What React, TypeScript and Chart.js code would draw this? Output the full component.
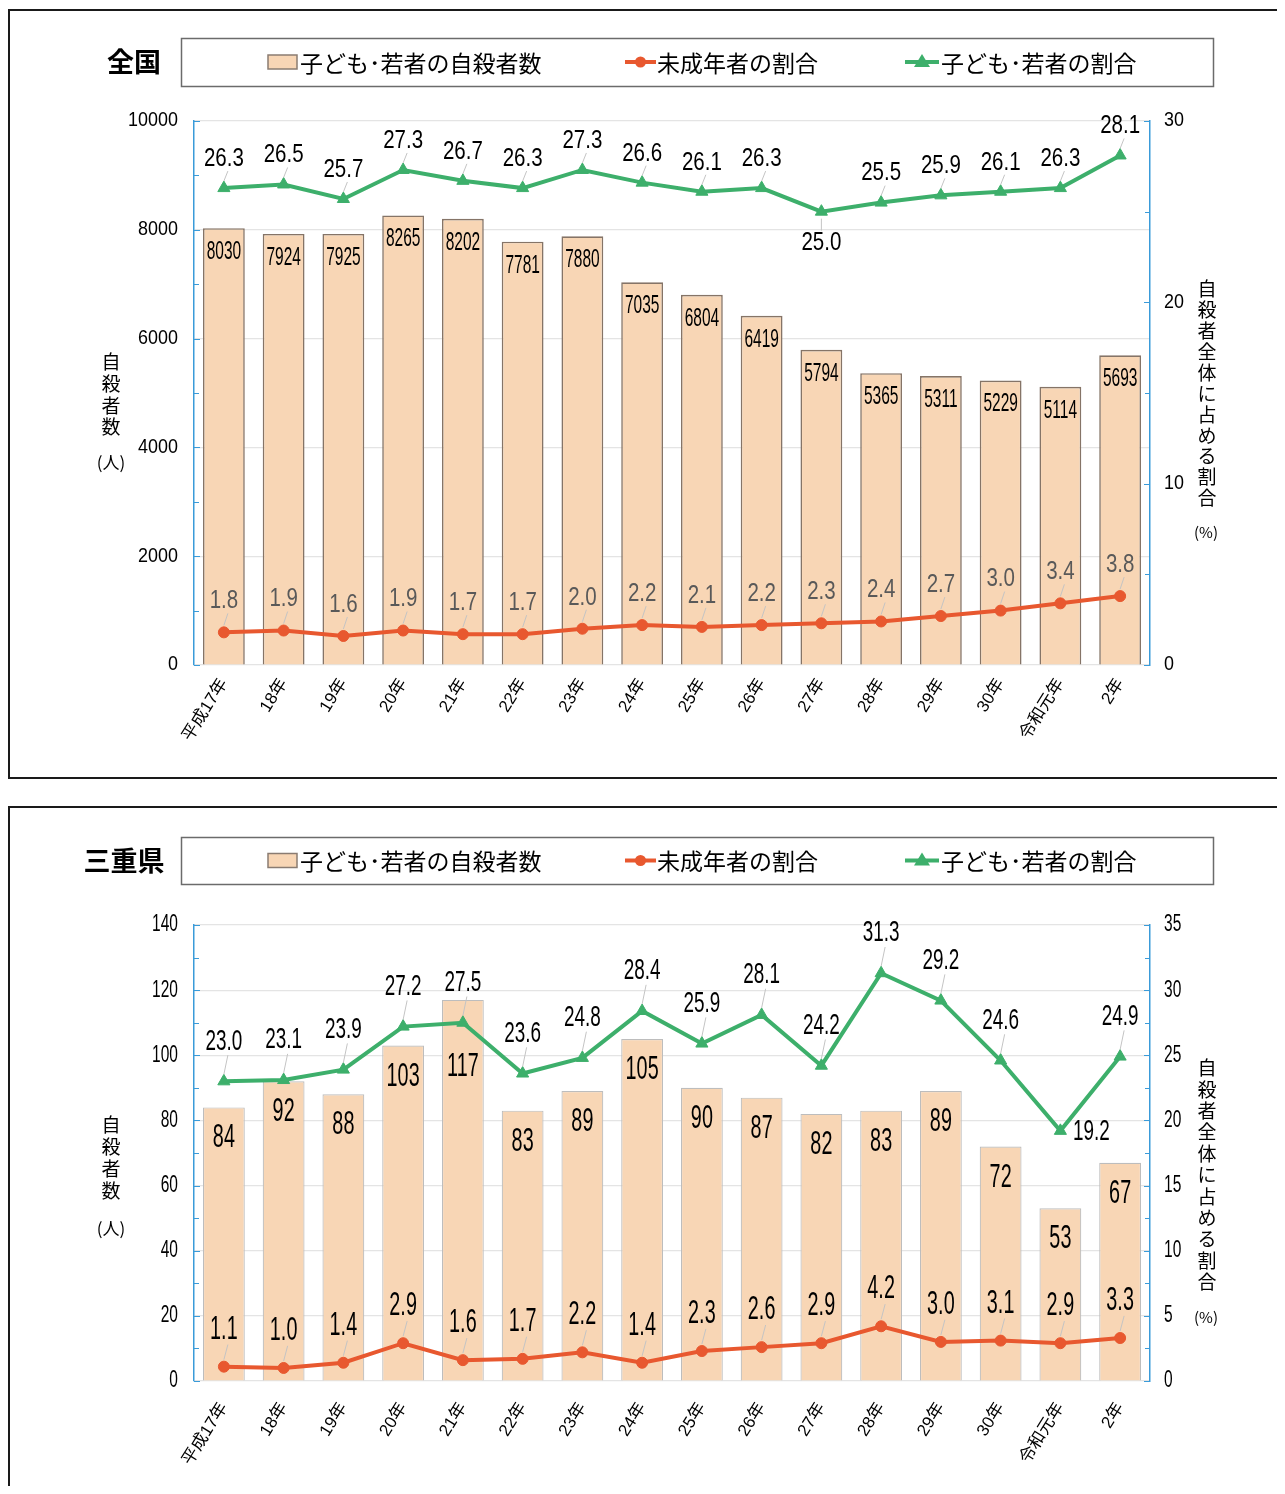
import React, { useEffect, useRef } from 'react';
import { Chart, registerables } from 'chart.js';

Chart.register(...registerables);

// ---------- data ----------
const categories = ['平成17年', '18年', '19年', '20年', '21年', '22年', '23年', '24年', '25年', '26年', '27年', '28年', '29年', '30年', '令和元年', '2年'];

const seriesNames = ['子ども･若者の自殺者数', '未成年者の割合', '子ども･若者の割合'];

const nationalCounts = [8030, 7924, 7925, 8265, 8202, 7781, 7880, 7035, 6804, 6419, 5794, 5365, 5311, 5229, 5114, 5693];
const nationalMinorShare = [1.8, 1.9, 1.6, 1.9, 1.7, 1.7, 2.0, 2.2, 2.1, 2.2, 2.3, 2.4, 2.7, 3.0, 3.4, 3.8];
const nationalYouthShare = [26.3, 26.5, 25.7, 27.3, 26.7, 26.3, 27.3, 26.6, 26.1, 26.3, 25.0, 25.5, 25.9, 26.1, 26.3, 28.1];

const mieCounts = [84, 92, 88, 103, 117, 83, 89, 105, 90, 87, 82, 83, 89, 72, 53, 67];
const mieMinorShare = [1.1, 1.0, 1.4, 2.9, 1.6, 1.7, 2.2, 1.4, 2.3, 2.6, 2.9, 4.2, 3.0, 3.1, 2.9, 3.3];
const mieYouthShare = [23.0, 23.1, 23.9, 27.2, 27.5, 23.6, 24.8, 28.4, 25.9, 28.1, 24.2, 31.3, 29.2, 24.6, 19.2, 24.9];

const leftAxisTitle = '自殺者数';
const leftAxisUnit = '(人)';
const rightAxisTitle = '自殺者全体に占める割合';
const rightAxisUnit = '(%)';

// ---------- styles ----------
const BAR_FILL = '#F8D6B5';
const RED = '#E8582F';
const GREEN = '#3DAF6B';
const AXIS_BLUE = '#3A9BD9';
const GRID = '#E4E4E4';
const NUM_FONT = '"Liberation Sans", Arial, sans-serif';
const CJK_FONT = '"Noto Sans CJK JP", "Noto Sans", sans-serif';

type LabelStyle = { size: number; sx: number; color: string; dy: number };
type Offset = { dx: number; dy: number };

type PanelCfg = {
  title: string;
  canvasH: number;
  padTop: number;
  xAxisH: number;
  xTickPad: number;
  yMax: number; yStep: number; yMinor: number;
  y1Max: number; y1Step: number; y1Minor: number;
  tickSize: number; tickSx: number;
  titleX: number; titleY: number;
  legendY: number; legendH: number;
  leftTitleY0: number; leftTitleStep: number; leftUnitY: number;
  rightTitleY0: number; rightTitleStep: number; rightUnitY: number;
  barLabel: LabelStyle; minorLabel: LabelStyle; youthLabel: LabelStyle;
  barBorder: string; barBorderWidth: number;
  barOv: Record<number, Offset>; minorOv: Record<number, Offset>; youthOv: Record<number, Offset>;
};

const CANVAS_W = 1275;
const Y_W = 184;
const Y1_W = 135;

function drawScaledText(ctx: CanvasRenderingContext2D, text: string, x: number, y: number, size: number, sx: number, color: string, align: CanvasTextAlign = 'center', family = NUM_FONT) {
  ctx.save();
  ctx.translate(x, y);
  ctx.scale(sx, 1);
  ctx.font = `${size}px ${family}`;
  ctx.fillStyle = color;
  ctx.textAlign = align;
  ctx.textBaseline = 'middle';
  ctx.fillText(text, 0, 0);
  ctx.restore();
}

function ChartPanel({ cfg, counts, minor, youth }: { cfg: PanelCfg; counts: number[]; minor: number[]; youth: number[] }) {
  const ref = useRef<HTMLCanvasElement | null>(null);

  useEffect(() => {
    const canvas = ref.current;
    if (!canvas) return;

    const decor = {
      id: 'decor',
      afterDatasetsDraw(chart: any) {
        const ctx: CanvasRenderingContext2D = chart.ctx;
        chart.data.datasets.forEach((ds: any, di: number) => {
          const meta = chart.getDatasetMeta(di);
          const style = di === 0 ? cfg.barLabel : di === 1 ? cfg.minorLabel : cfg.youthLabel;
          const ovs = di === 0 ? cfg.barOv : di === 1 ? cfg.minorOv : cfg.youthOv;
          meta.data.forEach((el: any, i: number) => {
            const v = ds.data[i] as number;
            const text = di === 0 ? String(v) : v.toFixed(1);
            const o = ovs[i] || { dx: 0, dy: style.dy };
            const x = el.x + o.dx;
            const y = el.y + o.dy;
            if (di > 0 && o.dx === 0) {
              const half = style.size * 0.36;
              ctx.save();
              ctx.strokeStyle = '#C4C4C4';
              ctx.lineWidth = 1;
              ctx.beginPath();
              if (o.dy < 0) {
                const y0 = el.y - 7;
                const y1 = y + half + 3;
                if (y0 - y1 > 4) { ctx.moveTo(el.x, y0); ctx.lineTo(el.x + 4, y1); }
              } else {
                const y0 = el.y + 7;
                const y1 = y - half - 3;
                if (y1 - y0 > 4) { ctx.moveTo(el.x, y0); ctx.lineTo(el.x, y1); }
              }
              ctx.stroke();
              ctx.restore();
            }
            drawScaledText(ctx, text, x, y, style.size, style.sx, style.color);
          });
        });
      },
      afterDraw(chart: any) {
        const ctx: CanvasRenderingContext2D = chart.ctx;
        const area = chart.chartArea;
        const ys = chart.scales.y;
        const y1s = chart.scales.y1;

        // inward tick marks
        ctx.save();
        ctx.strokeStyle = AXIS_BLUE;
        ctx.lineWidth = 1.2;
        ctx.beginPath();
        for (let v = 0; v <= cfg.yMax + 1e-9; v += cfg.yMinor) {
          const y = Math.round(ys.getPixelForValue(v)) + 0.5;
          const major = Math.abs(v / cfg.yStep - Math.round(v / cfg.yStep)) < 1e-6;
          ctx.moveTo(area.left, y);
          ctx.lineTo(area.left + (major ? 6 : 5), y);
        }
        for (let v = 0; v <= cfg.y1Max + 1e-9; v += cfg.y1Minor) {
          const y = Math.round(y1s.getPixelForValue(v)) + 0.5;
          const major = Math.abs(v / cfg.y1Step - Math.round(v / cfg.y1Step)) < 1e-6;
          ctx.moveTo(area.right, y);
          ctx.lineTo(area.right - (major ? 6 : 5), y);
        }
        ctx.stroke();
        ctx.restore();

        // tick labels from the scales' own ticks
        ys.ticks.forEach((t: any) => {
          drawScaledText(ctx, String(t.value), area.left - 16, ys.getPixelForValue(t.value), cfg.tickSize, cfg.tickSx, '#000', 'right');
        });
        y1s.ticks.forEach((t: any) => {
          drawScaledText(ctx, String(t.value), area.right + 14, y1s.getPixelForValue(t.value), cfg.tickSize, cfg.tickSx, '#000', 'left');
        });

        // title
        ctx.save();
        ctx.font = `bold 27px ${CJK_FONT}`;
        ctx.fillStyle = '#000';
        ctx.textAlign = 'center';
        ctx.textBaseline = 'middle';
        ctx.fillText(cfg.title, cfg.titleX, cfg.titleY);
        ctx.restore();

        // legend box
        const lx = 171, lw = 1032;
        const cy = cfg.legendY + cfg.legendH / 2;
        ctx.save();
        ctx.fillStyle = '#fff';
        ctx.fillRect(lx, cfg.legendY, lw, cfg.legendH);
        ctx.strokeStyle = '#6b6b6b';
        ctx.lineWidth = 1.5;
        ctx.strokeRect(lx + 0.5, cfg.legendY + 0.5, lw, cfg.legendH);
        const ds = chart.data.datasets;
        ctx.fillStyle = ds[0].backgroundColor;
        ctx.fillRect(258, cy - 7, 29, 14);
        ctx.strokeStyle = '#8a7c72';
        ctx.lineWidth = 1.5;
        ctx.strokeRect(258, cy - 7, 29, 14);
        ctx.strokeStyle = ds[1].borderColor;
        ctx.lineWidth = 4;
        ctx.beginPath();
        ctx.moveTo(615, cy); ctx.lineTo(646, cy);
        ctx.stroke();
        ctx.fillStyle = ds[1].borderColor;
        ctx.beginPath();
        ctx.arc(630.5, cy, 5.5, 0, Math.PI * 2);
        ctx.fill();
        ctx.strokeStyle = ds[2].borderColor;
        ctx.beginPath();
        ctx.moveTo(895, cy); ctx.lineTo(929, cy);
        ctx.stroke();
        ctx.fillStyle = ds[2].borderColor;
        ctx.beginPath();
        ctx.moveTo(912, cy - 8); ctx.lineTo(920, cy + 5); ctx.lineTo(904, cy + 5);
        ctx.closePath();
        ctx.fill();
        ctx.font = `23px ${CJK_FONT}`;
        ctx.fillStyle = '#000';
        ctx.textAlign = 'left';
        ctx.textBaseline = 'middle';
        ctx.fillText(ds[0].label, 290, cy + 1);
        ctx.fillText(ds[1].label, 647, cy + 1);
        ctx.fillText(ds[2].label, 931, cy + 1);
        ctx.restore();

        // stacked axis titles
        ctx.save();
        ctx.fillStyle = '#000';
        ctx.textAlign = 'center';
        ctx.textBaseline = 'middle';
        ctx.font = `19px ${CJK_FONT}`;
        Array.from(leftAxisTitle).forEach((ch, i) => ctx.fillText(ch, 101, cfg.leftTitleY0 + i * cfg.leftTitleStep));
        Array.from(rightAxisTitle).forEach((ch, i) => ctx.fillText(ch, 1197, cfg.rightTitleY0 + i * cfg.rightTitleStep));
        ctx.font = `17px ${CJK_FONT}`;
        ctx.fillText(leftAxisUnit, 101, cfg.leftUnitY);
        ctx.font = `15px ${CJK_FONT}`;
        ctx.fillText(rightAxisUnit, 1196, cfg.rightUnitY);
        ctx.restore();
      },
    };

    const chart = new Chart(canvas, {
      type: 'bar',
      data: {
        labels: categories,
        datasets: [
          {
            type: 'bar',
            label: seriesNames[0],
            data: counts,
            backgroundColor: BAR_FILL,
            borderColor: cfg.barBorder,
            borderWidth: cfg.barBorderWidth,
            barPercentage: 0.7,
            categoryPercentage: 1,
            yAxisID: 'y',
            order: 3,
          },
          {
            type: 'line',
            label: seriesNames[1],
            data: minor,
            borderColor: RED,
            backgroundColor: RED,
            borderWidth: 4,
            pointStyle: 'circle',
            pointRadius: 5.5,
            pointBackgroundColor: RED,
            pointBorderColor: RED,
            pointBorderWidth: 1,
            yAxisID: 'y1',
            order: 2,
          },
          {
            type: 'line',
            label: seriesNames[2],
            data: youth,
            borderColor: GREEN,
            backgroundColor: GREEN,
            borderWidth: 4,
            pointStyle: 'triangle',
            pointRadius: 7,
            pointBackgroundColor: GREEN,
            pointBorderColor: GREEN,
            pointBorderWidth: 1,
            yAxisID: 'y1',
            order: 1,
          },
        ] as any,
      },
      options: {
        responsive: false,
        animation: false,
        devicePixelRatio: 1,
        layout: { padding: { top: cfg.padTop, left: 0, right: 0, bottom: 0 } },
        plugins: {
          legend: { display: false },
          title: { display: false },
          tooltip: { enabled: false },
        },
        scales: {
          x: {
            grid: { display: false, drawTicks: false },
            border: { display: false },
            ticks: {
              autoSkip: false,
              minRotation: 58,
              maxRotation: 58,
              padding: cfg.xTickPad,
              color: '#000',
              font: { family: `"Liberation Sans", ${CJK_FONT}`, size: 17 },
            },
            afterFit: (s: any) => { s.height = cfg.xAxisH; },
          },
          y: {
            position: 'left',
            min: 0,
            max: cfg.yMax,
            ticks: { stepSize: cfg.yStep, display: false },
            grid: { color: GRID, lineWidth: 1.2, drawTicks: false },
            border: { color: AXIS_BLUE, width: 1.5 },
            afterFit: (s: any) => { s.width = Y_W; },
          },
          y1: {
            position: 'right',
            min: 0,
            max: cfg.y1Max,
            ticks: { stepSize: cfg.y1Step, display: false },
            grid: { drawOnChartArea: false, drawTicks: false },
            border: { color: AXIS_BLUE, width: 1.5 },
            afterFit: (s: any) => { s.width = Y1_W; },
          },
        },
      } as any,
      plugins: [decor],
    });

    return () => chart.destroy();
  }, [cfg, counts, minor, youth]);

  return <canvas ref={ref} width={CANVAS_W} height={cfg.canvasH} style={{ display: 'block', width: CANVAS_W, height: cfg.canvasH }} />;
}

const nationalCfg: PanelCfg = {
  title: '全国',
  canvasH: 766,
  padTop: 110,
  xAxisH: 112,
  xTickPad: 10,
  yMax: 10000, yStep: 2000, yMinor: 1000,
  y1Max: 30, y1Step: 10, y1Minor: 5,
  tickSize: 19.5, tickSx: 0.92,
  titleX: 124, titleY: 51,
  legendY: 27, legendH: 48,
  leftTitleY0: 351, leftTitleStep: 21.7, leftUnitY: 452,
  rightTitleY0: 278, rightTitleStep: 20.9, rightUnitY: 521,
  barLabel: { size: 25, sx: 0.62, color: '#000', dy: 24 },
  minorLabel: { size: 25, sx: 0.82, color: '#595959', dy: -31 },
  youthLabel: { size: 25, sx: 0.82, color: '#000', dy: -29 },
  barBorder: '#857467',
  barBorderWidth: 1.6,
  barOv: {},
  minorOv: {},
  youthOv: { 10: { dx: 0, dy: 31 } },
};

const mieCfg: PanelCfg = {
  title: '三重県',
  canvasH: 678,
  padTop: 117,
  xAxisH: 105,
  xTickPad: 18,
  yMax: 140, yStep: 20, yMinor: 10,
  y1Max: 35, y1Step: 5, y1Minor: 2.5,
  tickSize: 23.5, tickSx: 0.66,
  titleX: 114, titleY: 53,
  legendY: 29, legendH: 47,
  leftTitleY0: 317, leftTitleStep: 22, leftUnitY: 421,
  rightTitleY0: 260, rightTitleStep: 21.4, rightUnitY: 509,
  barLabel: { size: 33, sx: 0.6, color: '#000', dy: 31 },
  minorLabel: { size: 33, sx: 0.6, color: '#000', dy: -37 },
  youthLabel: { size: 30, sx: 0.63, color: '#000', dy: -40 },
  barBorder: '#BDBDBD',
  barBorderWidth: 1.2,
  barOv: { 4: { dx: 0, dy: 67 } },
  minorOv: {},
  youthOv: { 14: { dx: 31, dy: 1 } },
};

export default function App() {
  return (
    <div style={{ paddingTop: 1, width: 1277, overflow: 'hidden', background: '#fff' }}>
      <div style={{ borderTop: '2px solid #1a1a1a', borderLeft: '2px solid #1a1a1a', borderBottom: '2px solid #1a1a1a', height: 766, width: 1275 }}>
        <ChartPanel cfg={nationalCfg} counts={nationalCounts} minor={nationalMinorShare} youth={nationalYouthShare} />
      </div>
      <div style={{ marginTop: 27, borderTop: '2px solid #1a1a1a', borderLeft: '2px solid #1a1a1a', height: 678, width: 1275 }}>
        <ChartPanel cfg={mieCfg} counts={mieCounts} minor={mieMinorShare} youth={mieYouthShare} />
      </div>
    </div>
  );
}
